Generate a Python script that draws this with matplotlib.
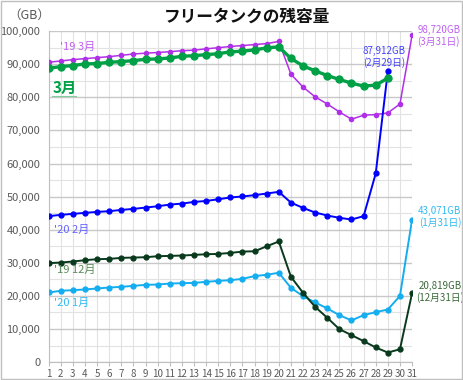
import matplotlib.pyplot as plt
import matplotlib.ticker as mticker

plt.rcParams['font.family'] = ['Noto Sans CJK JP', 'DejaVu Sans']

days = list(range(1, 32))

# '19 3月
mar19 = [90600, 91000, 91400, 91700, 92000, 92300, 92700, 93100, 93350, 93550,
         93800, 94100, 94260, 94660, 95000, 95370, 95650, 95950, 96250, 96900,
         87000, 83100, 80150, 78000, 75600, 73400, 74600, 74800, 75300, 78000,
         98720]
# 3月 (current)
mar20 = [88800, 89300, 89600, 90100, 90200, 90600, 90800, 91100, 91500, 91600,
         91900, 92400, 92600, 92900, 93200, 93750, 93950, 94350, 94950, 95250,
         91750, 89500, 88000, 86600, 85400, 84300, 83400, 83700, 85800]
# '20 2月
feb20 = [44100, 44500, 44800, 45100, 45400, 45600, 46000, 46300, 46700, 47100,
         47600, 47900, 48400, 48700, 49200, 49750, 50050, 50450, 50950, 51450,
         48200, 46600, 45200, 44300, 43600, 43100, 44100, 57000, 87912]
# '19 12月
dec19 = [29900, 30100, 30400, 30800, 31100, 31200, 31500, 31600, 31700, 32000,
         32100, 32200, 32400, 32600, 32700, 33000, 33400, 33500, 35000, 36450,
         25800, 20950, 16700, 13400, 9970, 8160, 6350, 4430, 2900, 3900,
         20819]
# '20 1月
jan20 = [21050, 21550, 21750, 21950, 22250, 22550, 22750, 23050, 23350, 23450,
         23750, 23850, 23950, 24250, 24550, 24750, 25170, 26000, 26400, 27000,
         22450, 19940, 18030, 16220, 14200, 12600, 14200, 15100, 15900, 20000,
         43071]

fig = plt.figure(figsize=(4.63, 3.80), dpi=100)
ax = fig.add_axes([0.105, 0.047, 0.785, 0.871])

# outer frame
fig.patches.append(plt.Rectangle((0.002, 0.002), 0.996, 0.996, transform=fig.transFigure,
                                 fill=False, edgecolor='#bfbfbf', linewidth=1.0))

ax.plot(days, mar19, color='#B030E8', lw=1.1, marker='o', ms=3, zorder=3)
ax.plot(days[:len(mar20)], mar20, color='#00A046', lw=2.4, marker='o', ms=5, zorder=4)
ax.plot(days[:len(feb20)], feb20, color='#0000FF', lw=1.4, marker='o', ms=3.5, zorder=3)
ax.plot(days, jan20, color='#14AEF0', lw=1.4, marker='o', ms=3.5, zorder=3)
ax.plot(days, dec19, color='#0A3A1E', lw=1.4, marker='o', ms=3.5, zorder=3)

ax.set_xlim(1, 31)
ax.set_ylim(0, 100000)
ax.set_xticks(days)
ax.yaxis.set_major_locator(mticker.MultipleLocator(10000))
ax.yaxis.set_minor_locator(mticker.MultipleLocator(5000))
ax.yaxis.set_major_formatter(mticker.FuncFormatter(lambda v, p: f'{int(v):,}'))
ax.grid(True, which='major', axis='y', color='#c8c8c8', lw=1.0)
ax.grid(True, which='minor', axis='y', color='#e2e2e2', lw=0.8)
ax.grid(True, which='major', axis='x', color='#e2e2e2', lw=0.8)
ax.set_axisbelow(True)
for s in ['top', 'right']:
    ax.spines[s].set_visible(False)
for s in ['left', 'bottom']:
    ax.spines[s].set_color('#bfbfbf')
ax.tick_params(axis='x', labelsize=7, colors='#595959', length=3, color='#bfbfbf', pad=2)
ax.tick_params(axis='y', labelsize=8, colors='#595959', length=0, pad=6)
ax.tick_params(axis='y', which='minor', length=0)

# series labels
ax.text(1.9, 95200, "'19 3月", color='#C060F0', fontsize=8, va='center')
ax.text(1.3, 82800, "3月", color='#00A046', fontsize=11, fontweight='bold', va='center')
ax.text(1.45, 39900, "'20 2月", color='#6666FF', fontsize=8, va='center')
ax.text(1.45, 27800, "'19 12月", color='#5A8A5A', fontsize=8, va='center')
ax.text(1.45, 17800, "'20 1月", color='#33BBF0', fontsize=8, va='center')
fig.add_artist(plt.Line2D([52 / 463, 76 / 463], [1 - 96 / 380, 1 - 96 / 380],
                          color='#7fcf9f', lw=0.8))

# end annotations
ann = dict(fontsize=7, ha='center', va='center', linespacing=1.15, clip_on=False)
ax.text(33.2, 98650, "98,720GB\n(3月31日)", color='#C060F0', **ann)
ax.text(28.7, 92100, "87,912GB\n(2月29日)", color='#4444FF', **ann)
ax.text(33.3, 43800, "43,071GB\n(1月31日)", color='#33BBF0', **ann)
ax.text(33.3, 21100, "20,819GB\n(12月31日)", color='#3A6A3A', **ann)

fig.text(247 / 463, 1 - 17 / 380, "フリータンクの残容量", fontsize=12, fontweight='bold',
         ha='center', va='center', color='#111111')
fig.text(8 / 463, 1 - 15 / 380, "（GB）", fontsize=9, color='#595959', va='center')

fig.savefig('out.png', dpi=100)
